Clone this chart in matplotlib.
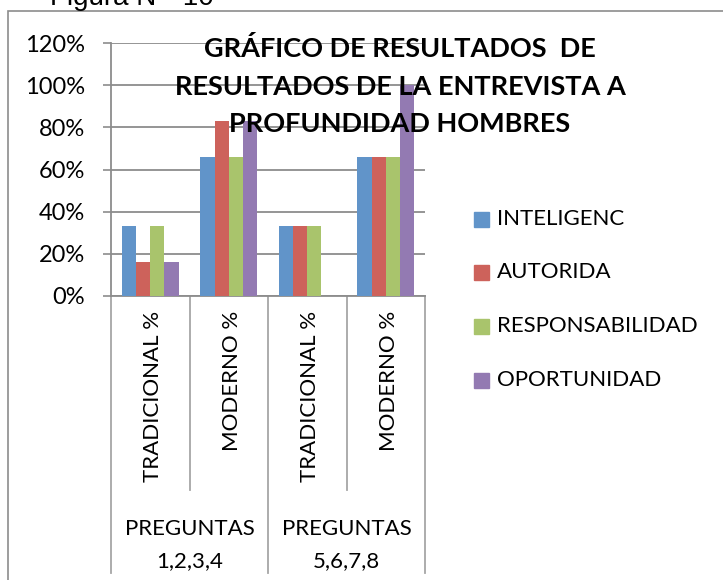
import numpy as np
import matplotlib.pyplot as plt
from matplotlib.patches import Rectangle

# --- Data ---
categories = ['TRADICIONAL %', 'MODERNO %', 'TRADICIONAL %', 'MODERNO %']
group_top = ['PREGUNTAS', 'PREGUNTAS']
group_bottom = ['1,2,3,4', '5,6,7,8']
series_names = ['INTELIGENC', 'AUTORIDA', 'RESPONSABILIDAD', 'OPORTUNIDAD']
inteligenc = [0.33, 0.66, 0.33, 0.66]
autorida = [0.16, 0.83, 0.33, 0.66]
responsabilidad = [0.33, 0.66, 0.33, 0.66]
oportunidad = [0.16, 0.83, 0.0, 1.00]
yticks = [0, 0.2, 0.4, 0.6, 0.8, 1.0, 1.2]
ytick_labels = ['0%', '20%', '40%', '60%', '80%', '100%', '120%']
title_lines = ['GRÁFICO DE RESULTADOS  DE',
               'RESULTADOS DE LA ENTREVISTA A',
               'PROFUNDIDAD HOMBRES']

colors = ['#6194C9', '#CD625B', '#A9C46C', '#937AB2']
grid_col = '#8C8C8C'
FONT = 'Lato'

W, H = 723, 580
fig = plt.figure(figsize=(W / 100, H / 100), dpi=100)

# plot area in pixels
x0, x1, y_top, y_bot = 111, 425, 43, 296
ax = fig.add_axes([x0 / W, 1 - y_bot / H, (x1 - x0) / W, (y_bot - y_top) / H])

values = [inteligenc, autorida, responsabilidad, oportunidad]
x = np.arange(len(categories))
bw = 0.18
for i, (vals, name) in enumerate(zip(values, series_names)):
    ax.bar(x + (i - 1.5) * bw, vals, width=bw, color=colors[i], label=name, zorder=3)

ax.set_xlim(-0.5, len(categories) - 0.5)
ax.set_ylim(0, 1.2)
ax.set_yticks(yticks)
ax.set_yticklabels(ytick_labels, fontsize=17, family=FONT)
ax.tick_params(axis='y', length=5.5, width=1.2, color=grid_col, pad=13)
ax.set_xticks([])
ax.yaxis.grid(True, color=grid_col, linewidth=1.3, zorder=0)
for s in ['top', 'right']:
    ax.spines[s].set_visible(False)
for s in ['left', 'bottom']:
    ax.spines[s].set_color(grid_col)
    ax.spines[s].set_linewidth(1.3)

# category axis below the plot
tr = ax.get_xaxis_transform()
ah = y_bot - y_top
def ya(py):
    return (y_bot - py) / ah

for b in np.arange(-0.5, len(categories), 1.0):
    is_group = int(round(b + 0.5)) % 2 == 0
    bottom = 573 if is_group else 490
    ax.plot([b, b], [0, ya(bottom)], transform=tr, color='#A6A6A6',
            linewidth=1.3, clip_on=False)

for xi, lab in zip(x, categories):
    ax.text(xi + 0.04, ya(311), lab, transform=tr, rotation=90, ha='center',
            va='top', fontsize=16, family=FONT)

for gi in range(len(group_top)):
    ax.text(2 * gi + 0.5, ya(535), group_top[gi], transform=tr, ha='center',
            va='baseline', fontsize=16, family=FONT)
    ax.text(2 * gi + 0.5, ya(567), group_bottom[gi], transform=tr, ha='center',
            va='baseline', fontsize=16, family=FONT)

# title, one text per line
for line, base in zip(title_lines, [57, 95, 132]):
    fig.text(400 / W, 1 - base / H, line, ha='center', va='baseline',
             fontsize=19.5, fontweight='bold', family=FONT, zorder=5)

# legend drawn by hand to match layout
leg_y = [219, 272, 326, 380]
for name, c, py in zip(series_names, colors, leg_y):
    fig.patches.append(Rectangle((474 / W, 1 - (py + 7.5) / H), 15 / W, 15 / H,
                                 transform=fig.transFigure, color=c))
    fig.text(497 / W, 1 - py / H, name, ha='left', va='center',
             fontsize=16, family=FONT)

# chart area border and caption above it
fig.patches.append(Rectangle((8 / W, -0.05), (W + 20) / W, 1.05 - 11 / H,
                             transform=fig.transFigure, fill=False,
                             edgecolor='#8C8C8C', linewidth=1.2))
fig.text(50 / W, 1 - 5 / H, 'Figura N°  10', ha='left', va='baseline',
         fontsize=20, family='Liberation Sans')

fig.savefig('out.png', dpi=100)
